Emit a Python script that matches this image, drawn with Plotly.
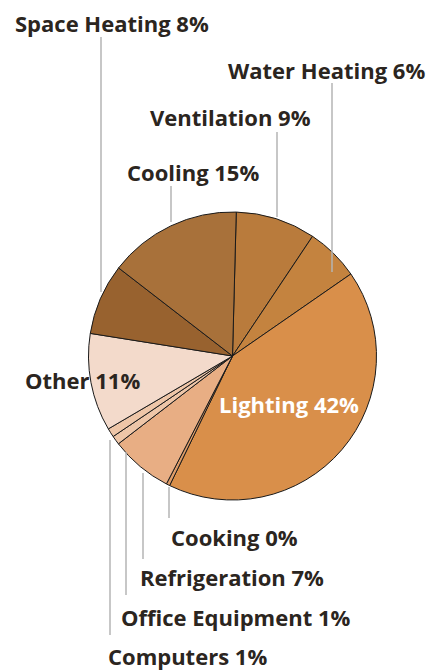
import plotly.graph_objects as go

# Data (clockwise from 12 o'clock)
categories = ["Ventilation", "Water Heating", "Lighting", "Cooking", "Refrigeration",
              "Office Equipment", "Computers", "Other", "Space Heating", "Cooling"]
shares = [9, 6, 42, 0.4, 7, 1, 1, 11, 8, 15]          # slice sizes
labels_pct = [9, 6, 42, 0, 7, 1, 1, 11, 8, 15]        # printed percentages
colors = ["#B97B3C", "#C4833F", "#D98F4A", "#DE9C68", "#E8AE84",
          "#EEC6A8", "#EEC6A8", "#F3DACB", "#98622F", "#A8713A"]

W, H = 427, 671
cx, cy, r = 232.5, 356, 144

fig = go.Figure(go.Pie(
    labels=categories, values=shares, sort=False, direction="clockwise",
    rotation=1.5, textinfo="none", hoverinfo="label+percent",
    marker=dict(colors=colors, line=dict(color="#1a1a1a", width=1)),
    domain=dict(x=[(cx - r) / W, (cx + r) / W], y=[(H - cy - r) / H, (H - cy + r) / H]),
    showlegend=False,
))

def px(x):
    return x / W

def py(y):
    return 1 - y / H

# label positions (center x, center y in pixels), and leader lines (x, y0, y1)
label_pos = {
    "Space Heating": (112, 23, (101, 37, 292)),
    "Water Heating": (326, 70, (332, 83, 272)),
    "Ventilation": (230, 117, (277, 132, 217)),
    "Cooling": (193, 172, (171, 186, 222)),
    "Other": (82, 380, None),
    "Lighting": (289, 404, None),
    "Cooking": (234, 537, (169, 487, 518)),
    "Refrigeration": (232, 577, (143, 473, 559)),
    "Office Equipment": (236, 617, (126, 452, 595)),
    "Computers": (187, 656, (110, 440, 635)),
}

shapes = []
annotations = []
for cat, pct in zip(categories, labels_pct):
    x, y, line = label_pos[cat]
    col = "white" if cat == "Lighting" else "#2b2520"
    annotations.append(dict(
        x=px(x), y=py(y), xref="paper", yref="paper", showarrow=False,
        text=f"{cat} {pct}%", xanchor="center", yanchor="middle",
        font=dict(family="Open Sans", size=22, color=col, weight=700),
    ))
    if line:
        lx, y0, y1 = line
        shapes.append(dict(type="line", xref="paper", yref="paper",
                           x0=px(lx), x1=px(lx), y0=py(y0), y1=py(y1),
                           line=dict(color="#b5b5b5", width=1.5), layer="above"))

fig.update_layout(
    width=W, height=H, margin=dict(l=0, r=0, t=0, b=0),
    paper_bgcolor="white", plot_bgcolor="white",
    shapes=shapes, annotations=annotations,
)
fig.write_html("out.html")
